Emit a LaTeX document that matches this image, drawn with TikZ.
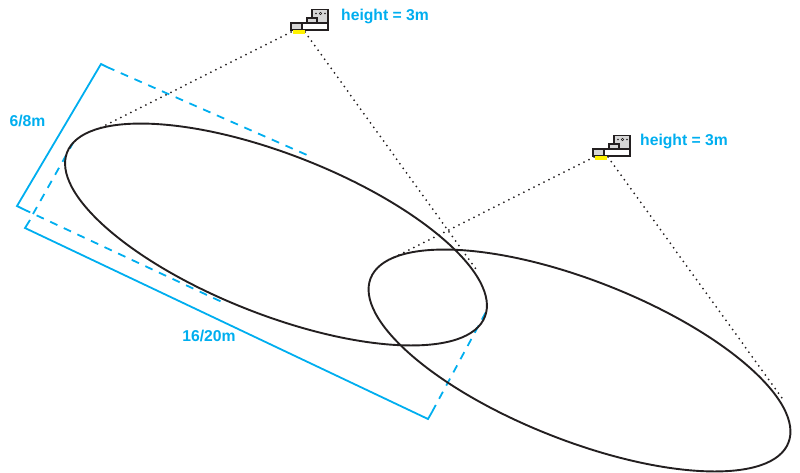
\documentclass[tikz,border=0pt]{standalone}
\usepackage{fontspec}
\setmainfont{Liberation Sans}
\definecolor{cyanb}{RGB}{0,174,239}
\definecolor{ink}{RGB}{35,31,32}
\definecolor{camgray}{RGB}{214,214,214}
\tikzset{
  x=1pt,y=-1pt,
  zone/.style={draw=ink,line width=1.9pt},
  ray/.style={draw=ink,line width=2pt,line cap=round,dash pattern=on 0pt off 5.6pt},
  dim/.style={draw=cyanb,line width=1.8pt},
  dimdash/.style={draw=cyanb,line width=1.8pt,dash pattern=on 8pt off 7pt},
  lab/.style={text=cyanb,font=\bfseries\fontsize{15.7}{18}\selectfont,inner sep=0pt},
  part/.style={draw=ink,line width=1.05pt},
  pics/cam/.style={code={
    \draw[part,fill=camgray] (21,-22.5) rectangle (37,-9);
    \draw[part,fill=camgray] (16,-14) rectangle (26,-9);
    \draw[part,fill=white] (11,-9) rectangle (37,-2);
    \draw[part,fill=camgray] (0,-9) rectangle (11,-2);
    \fill[yellow] (2,-1.6) rectangle (14,1.8);
    \fill[ink] (25,-18.5) circle (.9);
    \draw[ink,line width=.6pt] (29.5,-18.5) circle (1.2);
    \fill[ink] (34,-18.5) circle (.9);
  }}
}
\begin{document}
\begin{tikzpicture}
\useasboundingbox (0,0) rectangle (800,472);
% blue dimensions
\draw[dim] (107,67) -- (101,64) -- (17,206) -- (23,209);
\draw[dim] (30,220) -- (25,228) -- (428,419) -- (432,412);
\draw[dimdash] (107,67) -- (307,155);
\draw[dimdash] (23,209) -- (222,302);
\draw[dimdash] (33,214) -- (73,143);
\draw[dimdash] (432,412) -- (487,310);
% dotted rays
\coordinate (c1l) at (291,32); \coordinate (c1r) at (305,32);
\coordinate (c2l) at (594,157); \coordinate (c2r) at (608,157);
\coordinate (e1a) at (100,128); \coordinate (e1b) at (478,272);
\coordinate (e2a) at (393,258); \coordinate (e2b) at (782,398);
\draw[ray] (c1l) -- (e1a);
\draw[ray] (c1r) -- (e1b);
\draw[ray] (c2l) -- (e2a);
\draw[ray] (c2r) -- (e2b);
% zones
\draw[zone,rotate around={-21.5:(276,234.5)}] (276,234.5) ellipse [x radius=224.5,y radius=80];
\draw[zone,rotate around={-21.5:(579.5,360.5)}] (579.5,360.5) ellipse [x radius=224.5,y radius=80];
% cameras
\pic at (291,32) {cam};
\pic at (593,158) {cam};
% labels
\node[lab,anchor=west] (h1) at (341,16.7) {height = 3m};
\node[lab,anchor=west] (h2) at (640,141.7) {height = 3m};
\node[lab] (w) at (27.5,120.5) {6/8m};
\node[lab] (l) at (209,336) {16/20m};
\end{tikzpicture}
\end{document}
